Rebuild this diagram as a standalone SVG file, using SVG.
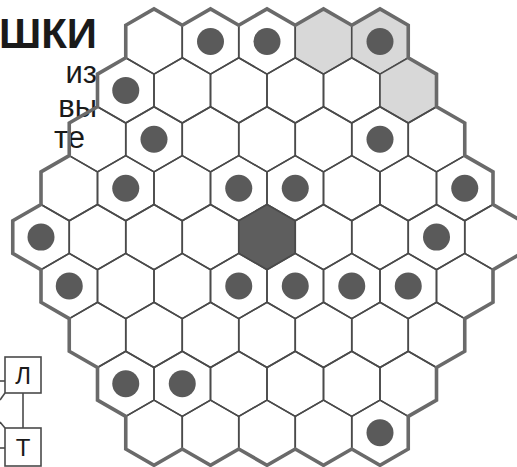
<svg xmlns="http://www.w3.org/2000/svg" xmlns:xlink="http://www.w3.org/1999/xlink" width="517" height="467" viewBox="0 0 517 467">
<style>
.c{fill:none;stroke:#4a4a4a;stroke-width:1.6}
.s{fill:#d8d8d8;stroke:#4a4a4a;stroke-width:1.6}
.k{fill:#5e5e5e;stroke:#4a4a4a;stroke-width:1.6}
.d{fill:#5a5a5a}
.rim{fill:none;stroke:#6a6a6a;stroke-width:3.6;stroke-linejoin:miter}
.t{font-family:"Liberation Sans",Arial,sans-serif;fill:#1a1a1a}
.box{fill:#fff;stroke:#4a4a4a;stroke-width:1.6}
.ln{fill:none;stroke:#4a4a4a;stroke-width:1.6}
</style>
<defs>
<polygon id="h" points="0,-32.6 28.25,-16.3 28.25,16.3 0,32.6 -28.25,16.3 -28.25,-16.3"/>
</defs>
<rect width="517" height="467" fill="#fff"/>
<g id="text">
<text class="t" x="97" y="48" font-size="42" font-weight="bold" text-anchor="end">ШКИ</text>
<text class="t" x="97" y="83" font-size="31" text-anchor="end">из</text>
<text class="t" x="97" y="117" font-size="31" text-anchor="end">вы</text>
<text class="t" x="85" y="148" font-size="31" text-anchor="end">те</text>
</g>
<g id="board">
<g id="row0">
<use xlink:href="#h" class="c" x="154" y="41.5"/>
<use xlink:href="#h" class="c" x="210.5" y="41.5"/>
<use xlink:href="#h" class="c" x="267" y="41.5"/>
<use xlink:href="#h" class="s" x="323.5" y="41.5"/>
<use xlink:href="#h" class="s" x="380" y="41.5"/>
</g>
<g id="row1">
<use xlink:href="#h" class="c" x="125.75" y="90.4"/>
<use xlink:href="#h" class="c" x="182.25" y="90.4"/>
<use xlink:href="#h" class="c" x="238.75" y="90.4"/>
<use xlink:href="#h" class="c" x="295.25" y="90.4"/>
<use xlink:href="#h" class="c" x="351.75" y="90.4"/>
<use xlink:href="#h" class="s" x="408.25" y="90.4"/>
</g>
<g id="row2">
<use xlink:href="#h" class="c" x="97.5" y="139.3"/>
<use xlink:href="#h" class="c" x="154" y="139.3"/>
<use xlink:href="#h" class="c" x="210.5" y="139.3"/>
<use xlink:href="#h" class="c" x="267" y="139.3"/>
<use xlink:href="#h" class="c" x="323.5" y="139.3"/>
<use xlink:href="#h" class="c" x="380" y="139.3"/>
<use xlink:href="#h" class="c" x="436.5" y="139.3"/>
</g>
<g id="row3">
<use xlink:href="#h" class="c" x="69.25" y="188.2"/>
<use xlink:href="#h" class="c" x="125.75" y="188.2"/>
<use xlink:href="#h" class="c" x="182.25" y="188.2"/>
<use xlink:href="#h" class="c" x="238.75" y="188.2"/>
<use xlink:href="#h" class="c" x="295.25" y="188.2"/>
<use xlink:href="#h" class="c" x="351.75" y="188.2"/>
<use xlink:href="#h" class="c" x="408.25" y="188.2"/>
<use xlink:href="#h" class="c" x="464.75" y="188.2"/>
</g>
<g id="row4">
<use xlink:href="#h" class="c" x="41" y="237.1"/>
<use xlink:href="#h" class="c" x="97.5" y="237.1"/>
<use xlink:href="#h" class="c" x="154" y="237.1"/>
<use xlink:href="#h" class="c" x="210.5" y="237.1"/>
<use xlink:href="#h" class="k" x="267" y="237.1"/>
<use xlink:href="#h" class="c" x="323.5" y="237.1"/>
<use xlink:href="#h" class="c" x="380" y="237.1"/>
<use xlink:href="#h" class="c" x="436.5" y="237.1"/>
<use xlink:href="#h" class="c" x="493" y="237.1"/>
</g>
<g id="row5">
<use xlink:href="#h" class="c" x="69.25" y="286"/>
<use xlink:href="#h" class="c" x="125.75" y="286"/>
<use xlink:href="#h" class="c" x="182.25" y="286"/>
<use xlink:href="#h" class="c" x="238.75" y="286"/>
<use xlink:href="#h" class="c" x="295.25" y="286"/>
<use xlink:href="#h" class="c" x="351.75" y="286"/>
<use xlink:href="#h" class="c" x="408.25" y="286"/>
<use xlink:href="#h" class="c" x="464.75" y="286"/>
</g>
<g id="row6">
<use xlink:href="#h" class="c" x="97.5" y="334.9"/>
<use xlink:href="#h" class="c" x="154" y="334.9"/>
<use xlink:href="#h" class="c" x="210.5" y="334.9"/>
<use xlink:href="#h" class="c" x="267" y="334.9"/>
<use xlink:href="#h" class="c" x="323.5" y="334.9"/>
<use xlink:href="#h" class="c" x="380" y="334.9"/>
<use xlink:href="#h" class="c" x="436.5" y="334.9"/>
</g>
<g id="row7">
<use xlink:href="#h" class="c" x="125.75" y="383.8"/>
<use xlink:href="#h" class="c" x="182.25" y="383.8"/>
<use xlink:href="#h" class="c" x="238.75" y="383.8"/>
<use xlink:href="#h" class="c" x="295.25" y="383.8"/>
<use xlink:href="#h" class="c" x="351.75" y="383.8"/>
<use xlink:href="#h" class="c" x="408.25" y="383.8"/>
</g>
<g id="row8">
<use xlink:href="#h" class="c" x="154" y="432.7"/>
<use xlink:href="#h" class="c" x="210.5" y="432.7"/>
<use xlink:href="#h" class="c" x="267" y="432.7"/>
<use xlink:href="#h" class="c" x="323.5" y="432.7"/>
<use xlink:href="#h" class="c" x="380" y="432.7"/>
</g>
<path id="rim" class="rim" d="M125.75,25.2 L154,8.9 L182.25,25.2 L210.5,8.9 L238.75,25.2 L267,8.9 L295.25,25.2 L323.5,8.9 L351.75,25.2 L380,8.9 L408.25,25.2 L408.25,57.8 L436.5,74.1 L436.5,106.7 L464.75,123 L464.75,155.6 L493,171.9 L493,204.5 L521.25,220.8 L521.25,253.4 L493,269.7 L493,302.3 L464.75,318.6 L464.75,351.2 L436.5,367.5 L436.5,400.1 L408.25,416.4 L408.25,449 L380,465.3 L351.75,449 L323.5,465.3 L295.25,449 L267,465.3 L238.75,449 L210.5,465.3 L182.25,449 L154,465.3 L125.75,449 L125.75,416.4 L97.5,400.1 L97.5,367.5 L69.25,351.2 L69.25,318.6 L41,302.3 L41,269.7 L12.75,253.4 L12.75,220.8 L41,204.5 L41,171.9 L69.25,155.6 L69.25,123 L97.5,106.7 L97.5,74.1 L125.75,57.8 Z"/>
</g>
<g id="pieces">
<circle class="d" cx="210.5" cy="41.5" r="13.5"/>
<circle class="d" cx="267" cy="41.5" r="13.5"/>
<circle class="d" cx="380" cy="41.5" r="13.5"/>
<circle class="d" cx="125.75" cy="90.4" r="13.5"/>
<circle class="d" cx="154" cy="139.3" r="13.5"/>
<circle class="d" cx="380" cy="139.3" r="13.5"/>
<circle class="d" cx="125.75" cy="188.2" r="13.5"/>
<circle class="d" cx="238.75" cy="188.2" r="13.5"/>
<circle class="d" cx="295.25" cy="188.2" r="13.5"/>
<circle class="d" cx="464.75" cy="188.2" r="13.5"/>
<circle class="d" cx="41" cy="237.1" r="13.5"/>
<circle class="d" cx="436.5" cy="237.1" r="13.5"/>
<circle class="d" cx="69.25" cy="286" r="13.5"/>
<circle class="d" cx="238.75" cy="286" r="13.5"/>
<circle class="d" cx="295.25" cy="286" r="13.5"/>
<circle class="d" cx="351.75" cy="286" r="13.5"/>
<circle class="d" cx="408.25" cy="286" r="13.5"/>
<circle class="d" cx="125.75" cy="383.8" r="13.5"/>
<circle class="d" cx="182.25" cy="383.8" r="13.5"/>
<circle class="d" cx="380" cy="432.7" r="13.5"/>
</g>
<g id="connectors">
<line class="ln" x1="23" y1="393" x2="23" y2="428"/>
<line class="ln" x1="0" y1="381" x2="5" y2="381"/>
<line class="ln" x1="0" y1="400" x2="5" y2="393"/>
<line class="ln" x1="0" y1="422" x2="5" y2="428"/>
<line class="ln" x1="0" y1="448" x2="5" y2="448"/>
</g>
<g id="node-L">
<rect class="box" x="5" y="357" width="36" height="36"/>
<text class="t" x="23" y="384" font-size="24" text-anchor="middle">Л</text>
</g>
<g id="node-T">
<rect class="box" x="5" y="428" width="36" height="38"/>
<text class="t" x="23" y="456" font-size="24" text-anchor="middle">Т</text>
</g>
</svg>
